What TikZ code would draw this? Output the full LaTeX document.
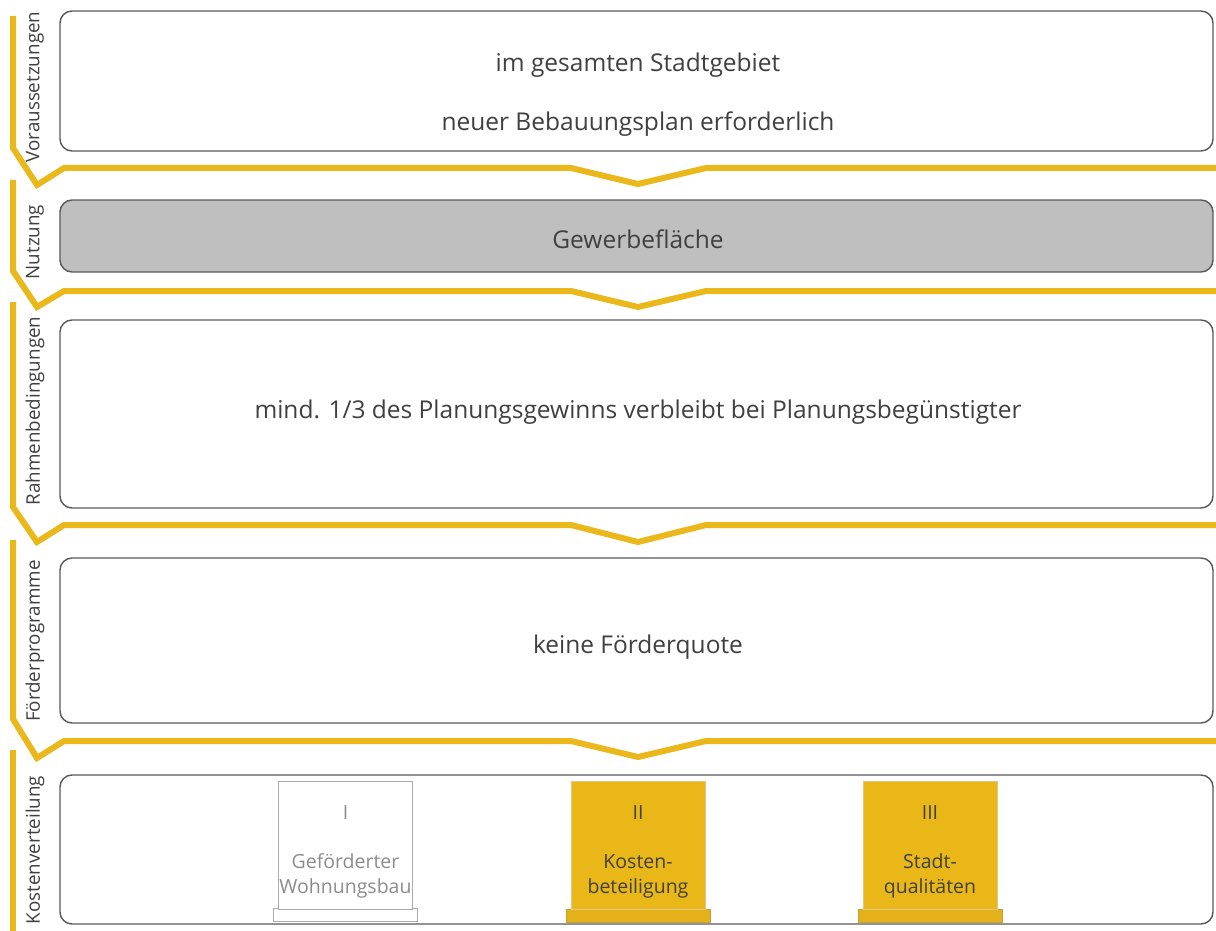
\documentclass[tikz,border=0pt]{standalone}
\usepackage{fontspec}
\setmainfont{Open Sans}
\definecolor{gold}{HTML}{EBB81C}
\definecolor{goldfill}{HTML}{E9B818}
\definecolor{goldbase}{HTML}{E3B11A}
\definecolor{goldedge}{HTML}{C9A035}
\definecolor{boxedge}{HTML}{595959}
\definecolor{txt}{HTML}{404040}
\definecolor{grayfill}{HTML}{BFBFBF}
\definecolor{lightedge}{HTML}{ABABAB}
\definecolor{lighttxt}{HTML}{8C8C8C}
\begin{document}
\begin{tikzpicture}[x=1pt,y=-1pt,
  panel/.style={draw=boxedge,line width=1.4pt,rounded corners=12pt,inner sep=0pt},
  maintext/.style={text=txt,font=\fontsize{24.5}{29}\selectfont,inner sep=0pt,anchor=base},
  sidelabel/.style={text=txt,font=\fontsize{18.8}{22}\selectfont,rotate=90,inner sep=0pt},
  flow/.style={draw=gold,line width=6pt,line join=miter},
  pillar/.style={minimum width=134pt,minimum height=128pt,inner sep=0pt},
  pillarbase/.style={minimum width=144pt,minimum height=13pt,inner sep=0pt},
  pillartext/.style={align=center,font=\fontsize{19.5}{25}\selectfont,inner sep=0pt,anchor=base}
]
\useasboundingbox (0,0) rectangle (1216,931);
\fill[white] (0,0) rectangle (1216,931);

% panels
\node[panel,minimum width=1153pt,minimum height=140pt] (p1) at (636.5,81) {};
\node[panel,fill=grayfill,minimum width=1153pt,minimum height=72pt] (p2) at (636.5,236) {};
\node[panel,minimum width=1153pt,minimum height=188pt] (p3) at (636.5,414) {};
\node[panel,minimum width=1153pt,minimum height=165pt] (p4) at (636.5,640.5) {};
\node[panel,minimum width=1153pt,minimum height=149pt] (p5) at (636.5,849.5) {};

% panel texts
\node[maintext] (t1a) at (638,72) {im gesamten Stadtgebiet};
\node[maintext] (t1b) at (638,131) {neuer Bebauungsplan erforderlich};
\node[maintext] (t2) at (638,248) {Gewerbefläche};
\node[maintext] (t3) at (638,418) {mind. 1/3 des Planungsgewinns verbleibt bei Planungsbegünstigter};
\node[maintext] (t4) at (638,653) {keine Förderquote};

% side labels
\node[sidelabel] (l1) at (35,87) {Voraussetzungen};
\node[sidelabel] (l2) at (35,242) {Nutzung};
\node[sidelabel] (l3) at (35,411) {Rahmenbedingungen};
\node[sidelabel] (l4) at (35,641) {Förderprogramme};
\node[sidelabel] (l5) at (35,850) {Kostenverteilung};

% flow lines
\draw[flow] (13,16) -- (13,148) -- (37,185) -- (64,168) -- (571,168) -- (638,184) -- (706,168) -- (1216,168);
\draw[flow] (13,180) -- (13,271) -- (37,307) -- (64,291) -- (571,291) -- (638,307) -- (706,291) -- (1216,291);
\draw[flow] (13,302) -- (13,507) -- (37,542) -- (64,525) -- (571,525) -- (638,542) -- (706,525) -- (1216,525);
\draw[flow] (13,540) -- (13,719) -- (37,758) -- (64,741) -- (571,741) -- (638,757) -- (706,741) -- (1216,741);
\draw[flow] (13,750) -- (13,931);

% pillars
\node[pillarbase,draw=lightedge,line width=1pt,fill=white] (b1) at (345.5,914.5) {};
\node[pillar,draw=lightedge,line width=1pt,fill=white] (s1) at (345.5,845) {};
\node[pillartext,text=lighttxt] (n1) at (345.5,819) {I};
\node[pillartext,text=lighttxt] (d1) at (345.5,893) {Geförderter\\Wohnungsbau};

\node[pillarbase,draw=goldedge,line width=0.6pt,fill=goldbase] (b2) at (638,915.5) {};
\node[pillar,draw=goldedge!60,line width=0.4pt,fill=goldfill] (s2) at (638,845) {};
\node[pillartext,text=txt] (n2) at (638,819) {II};
\node[pillartext,text=txt] (d2) at (638,893) {Kosten-\\beteiligung};

\node[pillarbase,draw=goldedge,line width=0.6pt,fill=goldbase] (b3) at (930,915.5) {};
\node[pillar,draw=goldedge!60,line width=0.4pt,fill=goldfill] (s3) at (930,845) {};
\node[pillartext,text=txt] (n3) at (930,819) {III};
\node[pillartext,text=txt] (d3) at (930,893) {Stadt-\\qualitäten};
\end{tikzpicture}
\end{document}
